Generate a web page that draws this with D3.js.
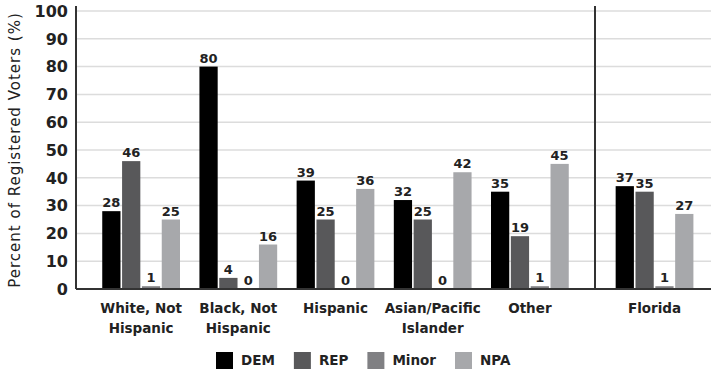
<!DOCTYPE html>
<html>
<head>
<meta charset="utf-8">
<script src="https://cdn.jsdelivr.net/npm/d3@7"></script>
<style>
  body { margin: 0; background: #fff; }
  svg { display: block; font-family: "DejaVu Sans", "Lato", sans-serif; }
</style>
</head>
<body>
<script>
// Data
const groups = ["White, Not Hispanic", "Black, Not Hispanic", "Hispanic", "Asian/Pacific Islander", "Other", "Florida"];
const groupLines = [["White, Not", "Hispanic"], ["Black, Not", "Hispanic"], ["Hispanic"], ["Asian/Pacific", "Islander"], ["Other"], ["Florida"]];
const parties = ["DEM", "REP", "Minor", "NPA"];
const dem = [28, 80, 39, 32, 35, 37];
const rep = [46, 4, 25, 25, 19, 35];
const minor = [1, 0, 0, 0, 1, 1];
const npa = [25, 16, 36, 42, 45, 27];
const yTicks = [0, 10, 20, 30, 40, 50, 60, 70, 80, 90, 100];
const colors = ["#000000", "#58585a", "#808083", "#a7a8ab"];

const series = [dem, rep, minor, npa];

// Dimensions
const width = 711;
const height = 372;
const plotLeft = 76, sep = 595, plotBottom = 289, plotTop = 11;

const svg = d3.select("body")
    .append("svg")
    .attr("width", width)
    .attr("height", height);

// Scales
const y = d3.scaleLinear().domain([0, 100]).range([plotBottom, plotTop]);

const xLeft = d3.scaleBand()
    .domain(groups.slice(0, 5))
    .range([plotLeft, sep])
    .paddingInner(0.2)
    .paddingOuter(0.27);

const xRight = d3.scaleBand()
    .domain(groups.slice(5))
    .range([sep, sep + 120])
    .paddingInner(0.2)
    .paddingOuter(0.21);

const groupX = g => groups.indexOf(g) < 5 ? xLeft(g) : xRight(g);
const bw = xLeft.bandwidth();

const xInner = d3.scaleBand()
    .domain(parties)
    .range([0, bw])
    .paddingInner(0.08);

const color = d3.scaleOrdinal().domain(parties).range(colors);

// Gridlines
svg.append("g")
    .selectAll("line")
    .data(yTicks.slice(1))
    .join("line")
    .attr("x1", plotLeft)
    .attr("x2", width)
    .attr("y1", d => y(d))
    .attr("y2", d => y(d))
    .attr("stroke", "#dcdcdc")
    .attr("stroke-width", 1.5);

// Y tick labels
svg.append("g")
    .selectAll("text")
    .data(yTicks)
    .join("text")
    .attr("x", plotLeft - 8)
    .attr("y", d => y(d))
    .attr("dy", "0.36em")
    .attr("text-anchor", "end")
    .attr("font-size", 16)
    .attr("font-weight", 700)
    .attr("fill", "#222")
    .text(d => d);

// Y axis title
svg.append("text")
    .attr("transform", `translate(20,${(plotTop + plotBottom) / 2}) rotate(-90)`)
    .attr("text-anchor", "middle")
    .attr("font-size", 15)
    .attr("letter-spacing", 1)
    .attr("fill", "#222")
    .text("Percent of Registered Voters (%)");

// Flatten data
const cells = [];
groups.forEach((g, i) => {
    parties.forEach((p, j) => {
        cells.push({ group: g, party: p, value: series[j][i] });
    });
});

// Bars
svg.append("g")
    .selectAll("rect")
    .data(cells.filter(d => d.value > 0))
    .join("rect")
    .attr("x", d => groupX(d.group) + xInner(d.party))
    .attr("y", d => y(d.value))
    .attr("width", xInner.bandwidth())
    .attr("height", d => y(0) - y(d.value))
    .attr("fill", d => color(d.party));

// Value labels
svg.append("g")
    .selectAll("text")
    .data(cells)
    .join("text")
    .attr("x", d => groupX(d.group) + xInner(d.party) + xInner.bandwidth() / 2)
    .attr("y", d => y(d.value) - 4)
    .attr("text-anchor", "middle")
    .attr("font-size", 13)
    .attr("font-weight", 700)
    .attr("fill", "#222")
    .text(d => d.value);

// Axis lines
svg.append("line")
    .attr("x1", plotLeft).attr("x2", plotLeft)
    .attr("y1", 6).attr("y2", plotBottom)
    .attr("stroke", "#333").attr("stroke-width", 2);

svg.append("line")
    .attr("x1", plotLeft).attr("x2", width)
    .attr("y1", plotBottom).attr("y2", plotBottom)
    .attr("stroke", "#333").attr("stroke-width", 2);

svg.append("line")
    .attr("x1", sep).attr("x2", sep)
    .attr("y1", 6).attr("y2", plotBottom)
    .attr("stroke", "#333").attr("stroke-width", 2);

// X labels
svg.append("g")
    .selectAll("text")
    .data(groups)
    .join("text")
    .attr("x", g => groupX(g) + bw / 2)
    .attr("y", 313)
    .attr("text-anchor", "middle")
    .attr("font-size", 13.5)
    .attr("font-weight", 700)
    .attr("fill", "#222")
    .each(function(g, i) {
        d3.select(this).selectAll("tspan")
            .data(groupLines[i])
            .join("tspan")
            .attr("x", groupX(g) + bw / 2)
            .attr("dy", (d, k) => k === 0 ? 0 : 20)
            .text(d => d);
    });

// Legend
const legend = svg.append("g").attr("transform", "translate(216,352)");
let lx = 0;
parties.forEach(p => {
    const item = legend.append("g").attr("transform", `translate(${lx},0)`);
    item.append("rect")
        .attr("width", 17)
        .attr("height", 17)
        .attr("fill", color(p));
    const t = item.append("text")
        .attr("x", 25)
        .attr("y", 8.5)
        .attr("dy", "0.36em")
        .attr("font-size", 13.5)
        .attr("font-weight", 700)
        .attr("fill", "#222")
        .text(p);
    lx += 25 + t.node().getComputedTextLength() + 19;
});
</script>
</body>
</html>
